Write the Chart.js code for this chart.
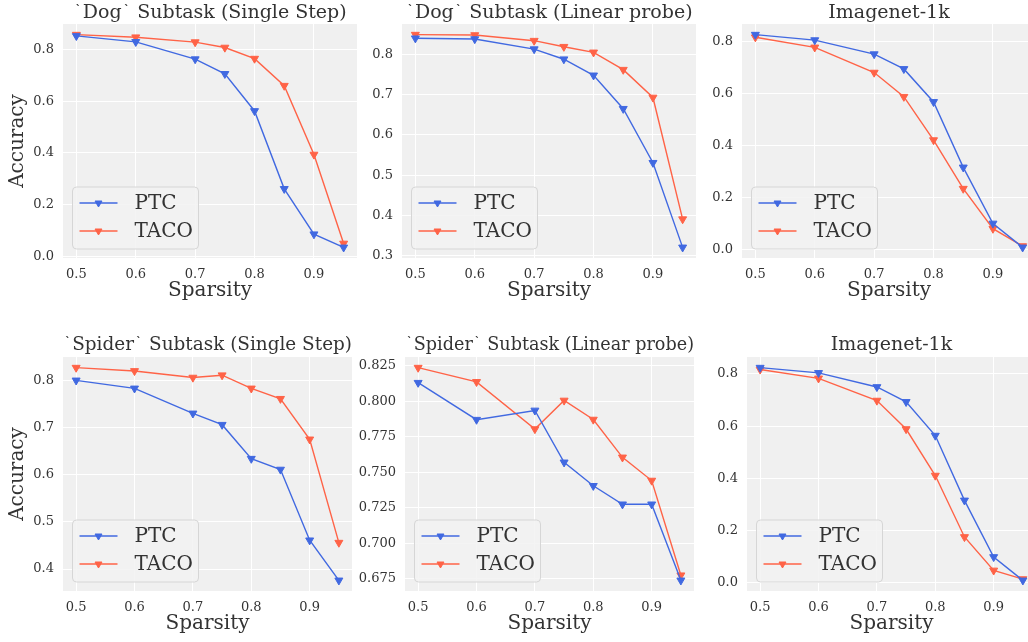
<!DOCTYPE html>
<html>
<head>
<meta charset="utf-8">
<script src="https://cdn.jsdelivr.net/npm/chart.js@4/dist/chart.umd.min.js"></script>
<style>
  html, body { margin: 0; padding: 0; background: #ffffff; overflow: hidden; }
  #wrap { position: relative; width: 1028px; height: 642px; overflow: hidden; }
  #wrap canvas { position: absolute; }
</style>
</head>
<body>
<div id="wrap"></div>
<script>
// sparsity levels shared by all panels
var sparsity = [0.5, 0.6, 0.7, 0.75, 0.8, 0.85, 0.9, 0.95];

var dogStepPTC = [0.854, 0.831, 0.764, 0.707, 0.563, 0.261, 0.085, 0.034];
var dogStepTACO = [0.859, 0.849, 0.830, 0.809, 0.766, 0.661, 0.394, 0.049];

var dogProbePTC = [0.840, 0.838, 0.813, 0.788, 0.748, 0.665, 0.531, 0.321];
var dogProbeTACO = [0.849, 0.848, 0.834, 0.819, 0.805, 0.762, 0.693, 0.391];

var imagenetTopPTC = [0.827, 0.806, 0.752, 0.695, 0.568, 0.316, 0.100, 0.008];
var imagenetTopTACO = [0.817, 0.778, 0.681, 0.588, 0.421, 0.234, 0.080, 0.013];

var spiderStepPTC = [0.800, 0.783, 0.730, 0.706, 0.634, 0.611, 0.461, 0.376];
var spiderStepTACO = [0.827, 0.820, 0.806, 0.811, 0.783, 0.761, 0.675, 0.456];

var spiderProbePTC = [0.813, 0.787, 0.7935, 0.757, 0.7405, 0.7275, 0.7275, 0.674];
var spiderProbeTACO = [0.8236, 0.8136, 0.7804, 0.8005, 0.7871, 0.7605, 0.7442, 0.6776];

var imagenetBotPTC = [0.824, 0.804, 0.750, 0.693, 0.564, 0.316, 0.0995, 0.010];
var imagenetBotTACO = [0.817, 0.783, 0.698, 0.589, 0.411, 0.176, 0.048, 0.015];

var seriesNames = ['PTC', 'TACO'];
var seriesColors = ['#4169e1', '#ff6347'];

var FONT = 'DejaVu Serif';
var TEXT = '#333333';

// plot-area boxes in page pixels (layout only)
var panels = [
  { title: '`Dog` Subtask (Single Step)', ptc: dogStepPTC, taco: dogStepTACO, step: 0.2, digits: 1, yTitle: true,
    left: 63, right: 357, top: 24, bottom: 258, titleY: 13 },
  { title: '`Dog` Subtask (Linear probe)', ptc: dogProbePTC, taco: dogProbeTACO, step: 0.1, digits: 1, yTitle: false,
    left: 402, right: 696, top: 24, bottom: 258, titleY: 13 },
  { title: 'Imagenet-1k', ptc: imagenetTopPTC, taco: imagenetTopTACO, step: 0.2, digits: 1, yTitle: false,
    left: 742, right: 1036, top: 24, bottom: 258, titleY: 13 },
  { title: '`Spider` Subtask (Single Step)', ptc: spiderStepPTC, taco: spiderStepTACO, step: 0.1, digits: 1, yTitle: true,
    left: 63, right: 352, top: 357, bottom: 591, titleY: 345 },
  { title: '`Spider` Subtask (Linear probe)', ptc: spiderProbePTC, taco: spiderProbeTACO, step: 0.025, digits: 3, yTitle: false,
    left: 405, right: 694, top: 357, bottom: 591, titleY: 345 },
  { title: 'Imagenet-1k', ptc: imagenetBotPTC, taco: imagenetBotTACO, step: 0.2, digits: 1, yTitle: false,
    left: 747, right: 1036, top: 357, bottom: 591, titleY: 345 }
];

var plotBackground = {
  id: 'plotBackground',
  beforeDraw: function (chart) {
    var a = chart.chartArea;
    chart.ctx.save();
    chart.ctx.fillStyle = '#f0f0f0';
    chart.ctx.fillRect(a.left, a.top, a.right - a.left, a.bottom - a.top);
    chart.ctx.restore();
  }
};

function downTriangle(ctx, x, y, r) {
  ctx.beginPath();
  ctx.moveTo(x, y + r);
  ctx.lineTo(x - r * 0.866, y - r * 0.5);
  ctx.lineTo(x + r * 0.866, y - r * 0.5);
  ctx.closePath();
  ctx.fill();
  ctx.stroke();
}

// legend drawn inside the plot, lower left, like matplotlib's "best"
var insideLegend = {
  id: 'insideLegend',
  afterDatasetsDraw: function (chart) {
    var ctx = chart.ctx, a = chart.chartArea;
    var w = 126, h = 62;
    var x = a.left + 9.5, y = a.bottom - 9 - h;
    ctx.save();
    ctx.beginPath();
    if (ctx.roundRect) ctx.roundRect(x, y, w, h, 4); else ctx.rect(x, y, w, h);
    ctx.fillStyle = 'rgba(242,242,242,0.85)';
    ctx.fill();
    ctx.strokeStyle = '#d6d6d6';
    ctx.lineWidth = 1;
    ctx.stroke();
    chart.data.datasets.forEach(function (ds, i) {
      var cy = y + 16 + i * 28;
      ctx.strokeStyle = ds.borderColor;
      ctx.fillStyle = ds.borderColor;
      ctx.lineWidth = 1.4;
      ctx.beginPath();
      ctx.moveTo(x + 7, cy);
      ctx.lineTo(x + 45, cy);
      ctx.stroke();
      ctx.lineWidth = 1;
      downTriangle(ctx, x + 26, cy, 4);
      ctx.fillStyle = TEXT;
      ctx.font = '20px "' + FONT + '"';
      ctx.textAlign = 'left';
      ctx.textBaseline = 'middle';
      ctx.fillText(ds.label, x + 62, cy + 1);
    });
    ctx.restore();
  }
};

function makePanel(p) {
  var yAxisW = p.yTitle ? 63 : 52;
  var xAxisH = 45;
  var titleSize = 19;
  var canvasLeft = p.left - yAxisW;
  var canvasTop = Math.round(p.titleY - titleSize / 2);
  var width = p.right - canvasLeft;
  var height = p.bottom + xAxisH - canvasTop;

  var canvas = document.createElement('canvas');
  canvas.width = width;
  canvas.height = height;
  canvas.style.left = canvasLeft + 'px';
  canvas.style.top = canvasTop + 'px';
  canvas.style.width = width + 'px';
  canvas.style.height = height + 'px';
  document.getElementById('wrap').appendChild(canvas);

  var all = p.ptc.concat(p.taco);
  var lo = Math.min.apply(null, all), hi = Math.max.apply(null, all);
  var pad = (hi - lo) * 0.05;

  var series = [p.ptc, p.taco];
  var datasets = series.map(function (vals, i) {
    return {
      label: seriesNames[i],
      data: sparsity.map(function (s, k) { return { x: s, y: vals[k] }; }),
      borderColor: seriesColors[i],
      backgroundColor: seriesColors[i],
      pointBackgroundColor: seriesColors[i],
      pointBorderColor: seriesColors[i],
      borderWidth: 1.4,
      pointStyle: 'triangle',
      rotation: 180,
      pointRadius: 4.6,
      pointBorderWidth: 1,
      tension: 0,
      clip: false,
    };
  });

  new Chart(canvas, {
    type: 'line',
    data: { datasets: datasets },
    plugins: [plotBackground, insideLegend],
    options: {
      responsive: false,
      animation: false,
      devicePixelRatio: 1,
      layout: { padding: 0, autoPadding: false },
      plugins: {
        legend: { display: false },
        tooltip: { enabled: false },
        title: {
          display: true,
          fullSize: false,
          text: p.title,
          color: TEXT,
          font: { family: FONT, size: titleSize, weight: 'normal', lineHeight: 1 },
          padding: { top: 0, bottom: p.top - canvasTop - titleSize },
        },
      },
      scales: {
        x: {
          type: 'linear',
          min: 0.4775,
          max: 0.9725,
          afterFit: function (scale) { scale.height = xAxisH; },
          grid: { color: '#ffffff', lineWidth: 1, drawTicks: false },
          border: { display: false },
          ticks: {
            stepSize: 0.1,
            includeBounds: false,
            padding: 9,
            color: TEXT,
            font: { family: FONT, size: 13 },
            callback: function (v) { return Number(v).toFixed(1); },
          },
          title: {
            display: true,
            text: 'Sparsity',
            color: TEXT,
            font: { family: FONT, size: 20, lineHeight: 1.2 },
            padding: 0,
          },
        },
        y: {
          min: lo - pad,
          max: hi + pad,
          afterFit: function (scale) { scale.width = yAxisW; },
          grid: { color: '#ffffff', lineWidth: 1, drawTicks: false },
          border: { display: false },
          ticks: {
            stepSize: p.step,
            includeBounds: false,
            padding: 9,
            color: TEXT,
            font: { family: FONT, size: 13 },
            callback: function (v) { return Number(v).toFixed(p.digits); },
          },
          title: {
            display: p.yTitle,
            text: 'Accuracy',
            color: TEXT,
            font: { family: FONT, size: 20, lineHeight: 1.2 },
            padding: { top: 6, bottom: 0 },
          },
        },
      },
    },
  });
}

panels.forEach(makePanel);
</script>
</body>
</html>
